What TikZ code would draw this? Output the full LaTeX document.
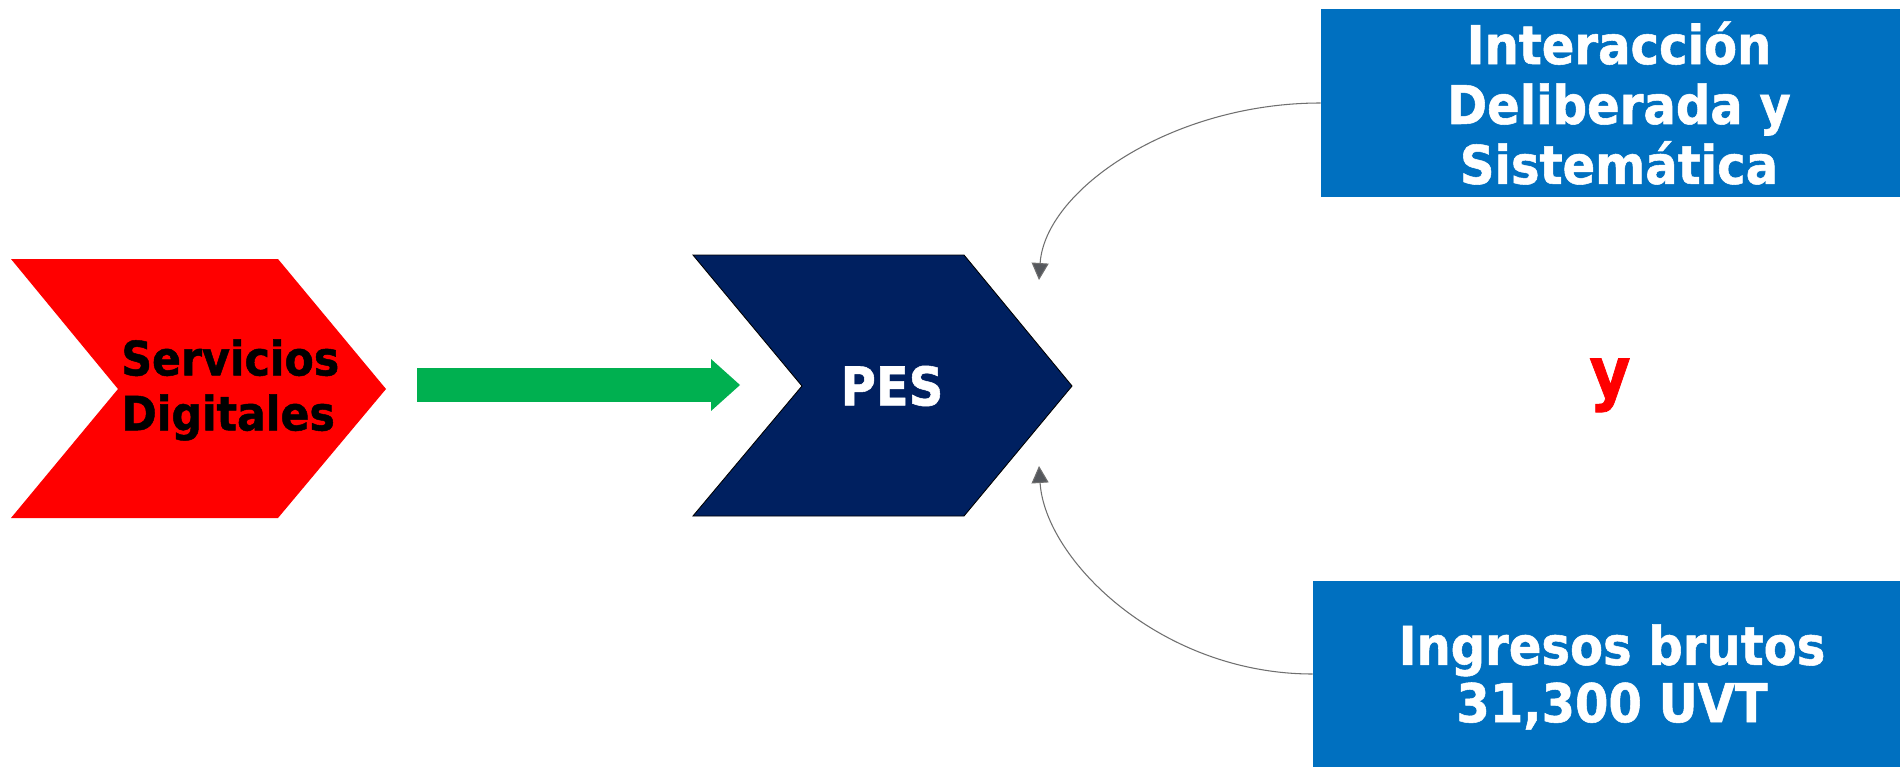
\documentclass[tikz,border=0pt]{standalone}
\usepackage{fontspec}
\setmainfont{DejaVu Sans}[FakeStretch=0.9, BoldFeatures={FakeBold=1}]
\usetikzlibrary{arrows.meta}

\definecolor{navyblue}{HTML}{002060}
\definecolor{boxblue}{HTML}{0070C0}
\definecolor{arrowgreen}{HTML}{00B050}
\definecolor{linegrey}{HTML}{6F6F6F}
\definecolor{tipgrey}{HTML}{55585D}

\begin{document}
\begin{tikzpicture}[x=0.02cm, y=-0.02cm]
\fill[white] (0,0) rectangle (1900,767);
\useasboundingbox (0,0) rectangle (1900,767);

% chevrons
\fill[red] (11,259) -- (278,259) -- (386,389) -- (278,518) -- (11,518) -- (118,389) -- cycle;
\filldraw[fill=navyblue, draw=black, line width=0.5pt] (693,255) -- (964,255) -- (1072,386) -- (964,516) -- (693,516) -- (802,386) -- cycle;

\begin{scope}[every node/.style={inner sep=0pt, font=\bfseries}]
    \node (deliberada) at (1610.5, 103) [rectangle, fill=boxblue, minimum width=11.58cm, minimum height=3.76cm] {};
    \node (brutos) at (1606.5, 674) [rectangle, fill=boxblue, minimum width=11.74cm, minimum height=3.72cm] {};

    \node (servicios) at (121, 390) [anchor=west, align=left, font=\bfseries\fontsize{27}{31.3}\selectfont] {Servicios\\Digitales};
    \node (pes) at (892, 386) [text=white, font=\bfseries\fontsize{30.4}{34}\selectfont] {PES};
    \node (interaccion) at (1619, 103) [text=white, align=center, font=\bfseries\fontsize{30.4}{34.1}\selectfont] {Interacción\\Deliberada y\\Sistemática};
    \node (ingresos) at (1612, 677) [text=white, align=center, font=\bfseries\fontsize{30.4}{32.6}\selectfont] {Ingresos brutos\\31,300 UVT};
    \node (yred) at (1610, 397) [anchor=base, text=red, font=\bfseries\fontsize{40}{44}\selectfont] {y};
\end{scope}

\coordinate (gstart) at (417,385);
\coordinate (gend) at (740,385);
\coordinate (toptip) at (1039,280);
\coordinate (bottip) at (1039,466);

\draw[draw=arrowgreen, line width=0.68cm, -{Triangle[length=0.58cm, width=1.04cm, line width=0pt]}] (gstart) -- (gend);

\begin{scope}[>={Triangle[length=0.34cm, width=0.34cm, fill=tipgrey]}]
    \draw[->, draw=linegrey, line width=0.6pt] (deliberada.west) .. controls +(-149,0) and +(6,-90) .. (toptip);
    \draw[->, draw=linegrey, line width=0.6pt] (brutos.west) .. controls +(-152,0) and +(6,94) .. (bottip);
\end{scope}
\end{tikzpicture}
\end{document}
